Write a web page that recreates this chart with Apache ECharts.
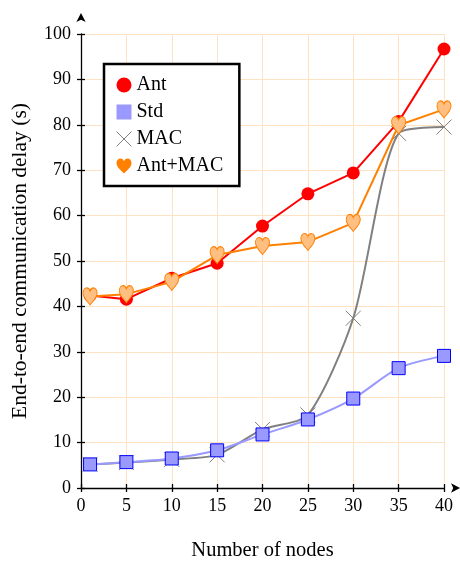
<!DOCTYPE html>
<html>
<head>
<meta charset="utf-8">
<script src="https://cdn.jsdelivr.net/npm/echarts@6/dist/echarts.min.js"></script>
<style>
  html, body { margin: 0; padding: 0; background: #fff; }
  #chart { width: 460px; height: 561px; }
</style>
</head>
<body>
<div id="chart"></div>
<script>
// Delay measurements per network size
const nodes  = [1, 5, 10, 15, 20, 25, 30, 35, 40];
const ant    = [42.4, 41.6, 46.2, 49.5, 57.7, 64.8, 69.4, 80.7, 96.7];
const std    = [5.2, 5.7, 6.5, 8.3, 11.8, 15.1, 19.7, 26.4, 29.1];
const mac    = [5.2, 5.6, 6.3, 7.3, 12.9, 16.1, 37.4, 78.1, 79.5];
const antMac = [42.2, 42.7, 45.4, 51.3, 53.3, 54.2, 58.4, 79.9, 83.4];
const seriesNames = ['Ant', 'Std', 'MAC', 'Ant+MAC'];
const xTicks = [0, 5, 10, 15, 20, 25, 30, 35, 40];
const yTicks = [0, 10, 20, 30, 40, 50, 60, 70, 80, 90, 100];

const FONT = 'Liberation Serif';
const GRID_COLOR = '#ffe2c4';
const crossPath = 'path://M0,0L10,10M10,0L0,10';
const heartPath = 'path://M50,100 C42,88 0,62 0,30 C0,12 12,0 26,0 C38,0 46,8 50,18 C54,8 62,0 74,0 C88,0 100,12 100,30 C100,62 58,88 50,100 Z';

const pairs = (ys) => nodes.map((x, i) => [x, ys[i]]);

const chart = echarts.init(document.getElementById('chart'), null, { renderer: 'canvas' });

const baseX = {
  type: 'value', min: xTicks[0], max: xTicks[xTicks.length - 1], interval: 5,
  gridIndex: 0, position: 'bottom'
};
const baseY = {
  type: 'value', min: yTicks[0], max: yTicks[yTicks.length - 1], interval: 10,
  gridIndex: 0, position: 'left'
};

chart.setOption({
  animation: false,
  backgroundColor: '#ffffff',
  textStyle: { fontFamily: FONT },
  grid: { left: 81, right: 16, top: 34, bottom: 73, containLabel: false, outerBoundsMode: 'none' },
  legend: {
    orient: 'vertical',
    left: 104, top: 64,
    padding: [11, 16, 10, 10],
    borderColor: '#000', borderWidth: 2.5,
    backgroundColor: '#fff',
    itemWidth: 15, itemHeight: 15, itemGap: 7,
    textStyle: { fontFamily: FONT, fontSize: 20, color: '#000' },
    data: [
      { name: seriesNames[0], icon: 'circle', itemStyle: { color: '#ff0000', borderWidth: 0 } },
      { name: seriesNames[1], icon: 'rect', itemStyle: { color: '#9999ff', borderWidth: 0 } },
      { name: seriesNames[2], icon: crossPath, itemStyle: { color: 'none', borderColor: '#808080', borderWidth: 1 } },
      { name: seriesNames[3], icon: heartPath, itemStyle: { color: '#ff8000', borderWidth: 0 } }
    ]
  },
  xAxis: [
    Object.assign({}, baseX, {
      name: 'Number of nodes', nameLocation: 'middle', nameGap: 52,
      nameTextStyle: { fontFamily: FONT, fontSize: 20.5, color: '#000' },
      axisLine: { show: true, lineStyle: { color: '#000', width: 1.3 },
        symbol: ['none', 'arrow'], symbolSize: [7, 9], symbolOffset: [0, 16] },
      axisTick: { show: true, inside: false, length: 4, lineStyle: { color: '#000', width: 1.3 } },
      axisLabel: { fontFamily: FONT, fontSize: 18, color: '#000', margin: 9 },
      splitLine: { show: true, lineStyle: { color: GRID_COLOR, width: 1 } }
    }),
    Object.assign({}, baseX, {
      axisLine: { show: false },
      axisTick: { show: true, inside: true, length: 4, lineStyle: { color: '#000', width: 1.3 } },
      axisLabel: { show: false },
      splitLine: { show: false }
    })
  ],
  yAxis: [
    Object.assign({}, baseY, {
      name: 'End-to-end communication delay (s)', nameLocation: 'middle', nameGap: 50,
      nameTextStyle: { fontFamily: FONT, fontSize: 21.5, color: '#000' },
      axisLine: { show: true, lineStyle: { color: '#000', width: 1.3 },
        symbol: ['none', 'arrow'], symbolSize: [7, 9], symbolOffset: [0, 21] },
      axisTick: { show: true, inside: false, length: 4, lineStyle: { color: '#000', width: 1.3 } },
      axisLabel: { fontFamily: FONT, fontSize: 18, color: '#000', margin: 10 },
      splitLine: { show: true, lineStyle: { color: GRID_COLOR, width: 1 } }
    }),
    Object.assign({}, baseY, {
      axisLine: { show: false },
      axisTick: { show: true, inside: true, length: 4, lineStyle: { color: '#000', width: 1.3 } },
      axisLabel: { show: false },
      splitLine: { show: false }
    })
  ],
  series: [
    {
      name: seriesNames[2], type: 'line', data: pairs(mac), smooth: 0.25, z: 2,
      symbol: crossPath, symbolSize: 15,
      lineStyle: { color: '#808080', width: 2 },
      itemStyle: { color: 'none', borderColor: '#808080', borderWidth: 1 }
    },
    {
      name: seriesNames[1], type: 'line', data: pairs(std), smooth: 0.3, z: 3,
      symbol: 'rect', symbolSize: 13,
      lineStyle: { color: '#9999ff', width: 2 },
      itemStyle: { color: '#9999ff', borderColor: '#0000ff', borderWidth: 1 }
    },
    {
      name: seriesNames[0], type: 'line', data: pairs(ant), z: 4,
      symbol: 'circle', symbolSize: 13,
      lineStyle: { color: '#ff0000', width: 2 },
      itemStyle: { color: '#ff0000', borderColor: '#ff0000', borderWidth: 0 }
    },
    {
      name: seriesNames[3], type: 'line', data: pairs(antMac), z: 5,
      symbol: heartPath, symbolSize: [14, 17],
      lineStyle: { color: '#ff8000', width: 2 },
      itemStyle: { color: '#ffbf80', borderColor: '#ff8000', borderWidth: 1 }
    }
  ]
});
</script>
</body>
</html>
